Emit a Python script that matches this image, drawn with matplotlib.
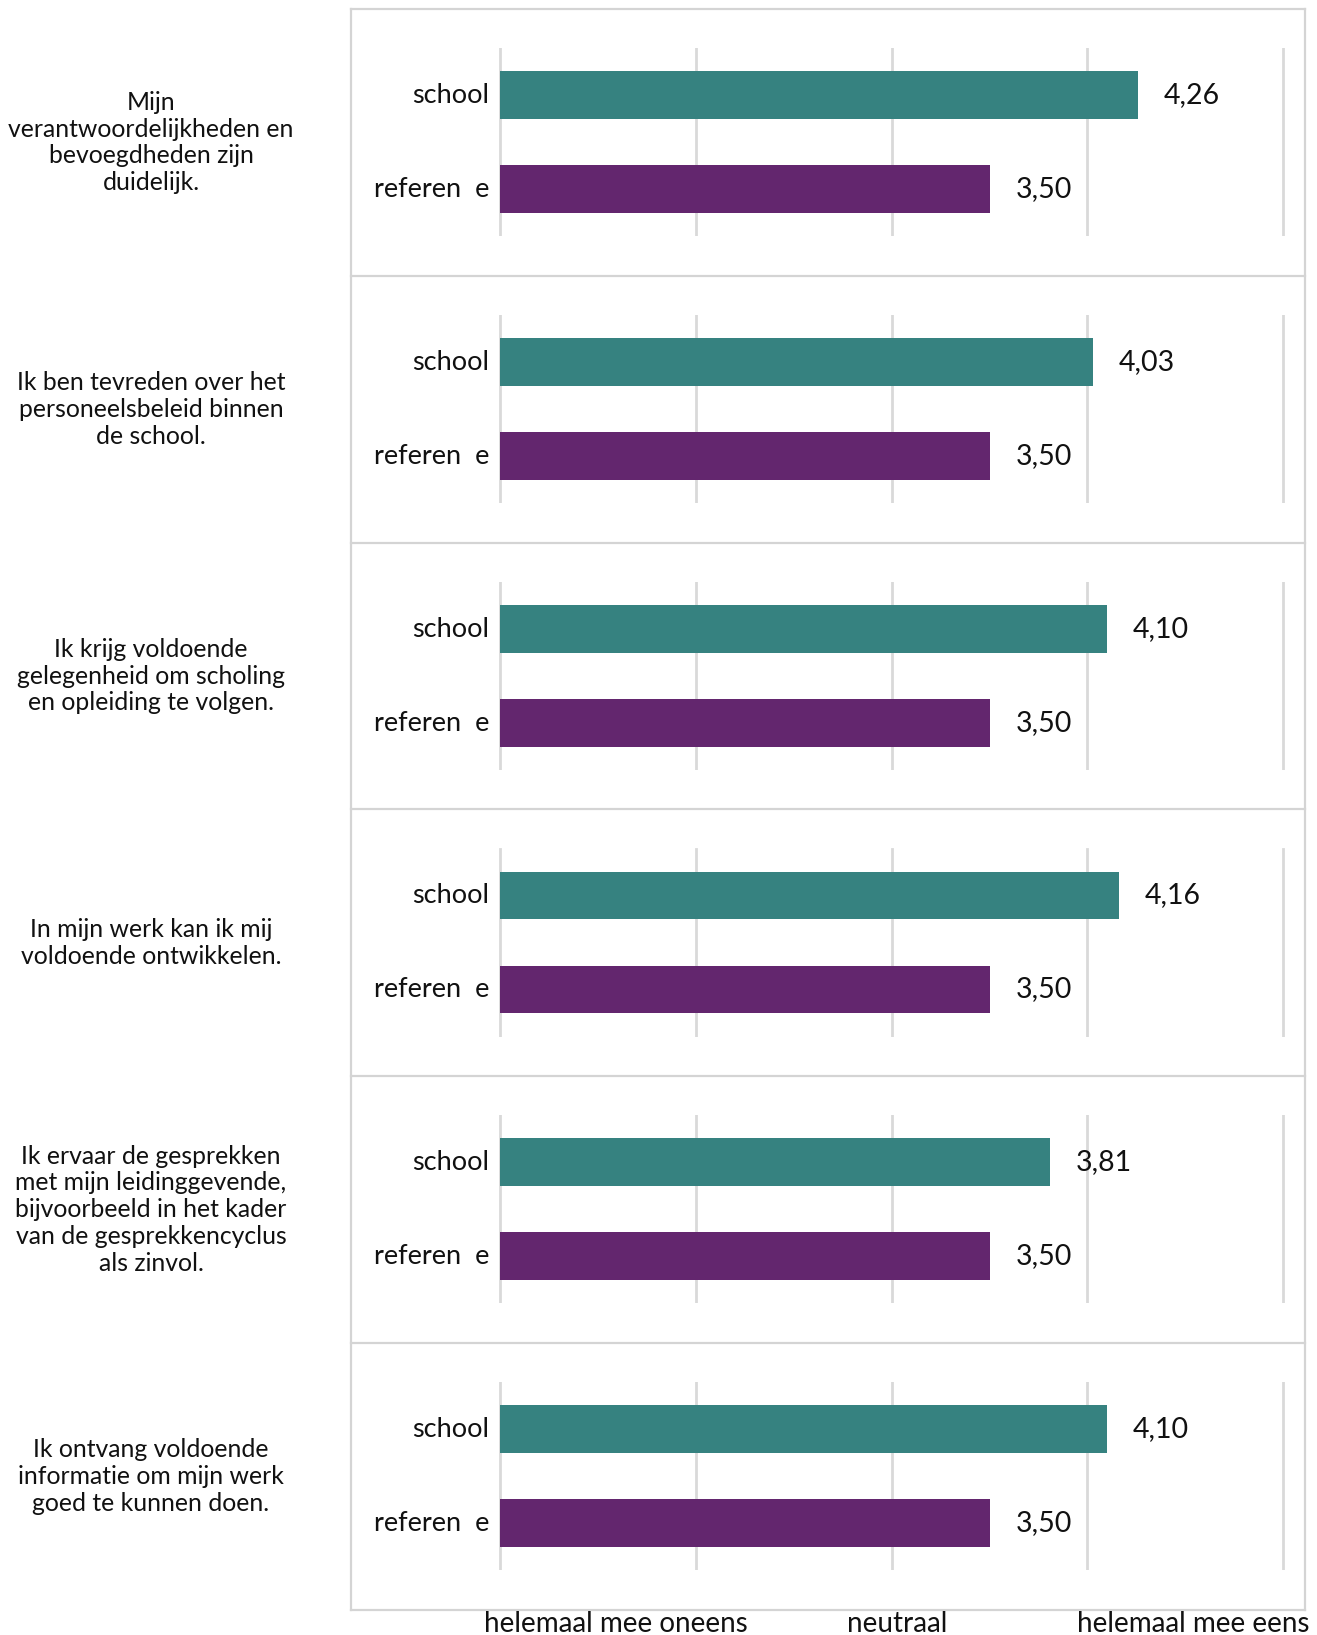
import matplotlib
matplotlib.use("Agg")
import matplotlib.pyplot as plt
import matplotlib.lines as mlines
import matplotlib.transforms as mtransforms

plt.rcParams['font.family'] = ['Lato', 'DejaVu Sans']

# data
questions = [
    "Mijn\nverantwoordelijkheden en\nbevoegdheden zijn\nduidelijk.",
    "Ik ben tevreden over het\npersoneelsbeleid binnen\nde school.",
    "Ik krijg voldoende\ngelegenheid om scholing\nen opleiding te volgen.",
    "In mijn werk kan ik mij\nvoldoende ontwikkelen.",
    "Ik ervaar de gesprekken\nmet mijn leidinggevende,\nbijvoorbeeld in het kader\nvan de gesprekkencyclus\nals zinvol.",
    "Ik ontvang voldoende\ninformatie om mijn werk\ngoed te kunnen doen.",
]
series_labels = ["school", "referen  e"]
school_values = [4.26, 4.03, 4.10, 4.16, 3.81, 4.10]
reference_values = [3.50, 3.50, 3.50, 3.50, 3.50, 3.50]
scale_ticks = [1, 2, 3, 4, 5]
scale_labels = ["helemaal mee oneens", "neutraal", "helemaal mee eens"]
scale_label_pos = [1.59, 3.03, 4.54]

TEAL = "#368280"
PURPLE = "#63266E"
GRID = "#D9D9D9"
BORDER = "#D4D4D4"

W, H = 1317, 1635
fig = plt.figure(figsize=(W / 100, H / 100), dpi=100)

panel_top = 9
panel_bottom = 1610
panel_left = 351
panel_right = 1305
panel_h = (panel_bottom - panel_top) / len(questions)

# axis geometry in pixels: value 1 at x=500, value 5 at x=1283
x1_px, x5_px = 500, 1283.3
unit = (x5_px - x1_px) / 4
pad_px = 12
ax_left = x1_px - pad_px
ax_right = x5_px + pad_px

axes = []
for i, q in enumerate(questions):
    top = panel_top + i * panel_h
    a_top = top + 39
    a_h = 188
    ax = fig.add_axes([ax_left / W, 1 - (a_top + a_h) / H,
                       (ax_right - ax_left) / W, a_h / H])
    vals = [school_values[i], reference_values[i]]
    ax.barh([0, 1], [v - 1 for v in vals], left=1, height=0.51,
            color=[TEAL, PURPLE], zorder=2)
    for y, v in zip([0, 1], vals):
        ax.annotate(f"{v:.2f}".replace(".", ","), (v, y), xytext=(18.5, 0),
                    textcoords="offset points", va="center", ha="left",
                    fontsize=20.5, color="#111111")
    # category labels left of the bars
    for y, lab in zip([0, 1], series_labels):
        ax.annotate(lab, (1, y), xytext=(-7.5, 1.5), textcoords="offset points",
                    va="center_baseline", ha="right", fontsize=19.5,
                    color="#111111", annotation_clip=False)
    ax.set_xlim(1 - pad_px / unit, 5 + pad_px / unit)
    ax.set_ylim(1.5, -0.5)
    ax.set_xticks(scale_ticks)
    ax.set_yticks([])
    ax.tick_params(axis="x", length=0, labelbottom=False)
    ax.grid(axis="x", color=GRID, linewidth=2.0)
    ax.set_axisbelow(True)
    for s in ax.spines.values():
        s.set_visible(False)
    ax.patch.set_alpha(0)
    cy = 1 - (top + panel_h / 2) / H
    fig.text(151 / W, cy, q, ha="center", va="center", fontsize=17.8,
             linespacing=1.2, color="#111111")
    axes.append(ax)

# panel borders
for k in range(len(questions) + 1):
    y = 1 - (panel_top + k * panel_h) / H
    fig.add_artist(mlines.Line2D([panel_left / W, panel_right / W], [y, y],
                                 color=BORDER, linewidth=1.6))
for x in [panel_left, panel_right]:
    fig.add_artist(mlines.Line2D([x / W, x / W],
                                 [1 - panel_top / H, 1 - panel_bottom / H],
                                 color=BORDER, linewidth=1.6))

# scale labels at the bottom
trans = mtransforms.blended_transform_factory(axes[-1].transData, fig.transFigure)
for pos, lab in zip(scale_label_pos, scale_labels):
    fig.text(pos, 3 / H, lab, transform=trans, ha="center", va="baseline",
             fontsize=20, color="#111111")

fig.savefig("out.png", dpi=100)
